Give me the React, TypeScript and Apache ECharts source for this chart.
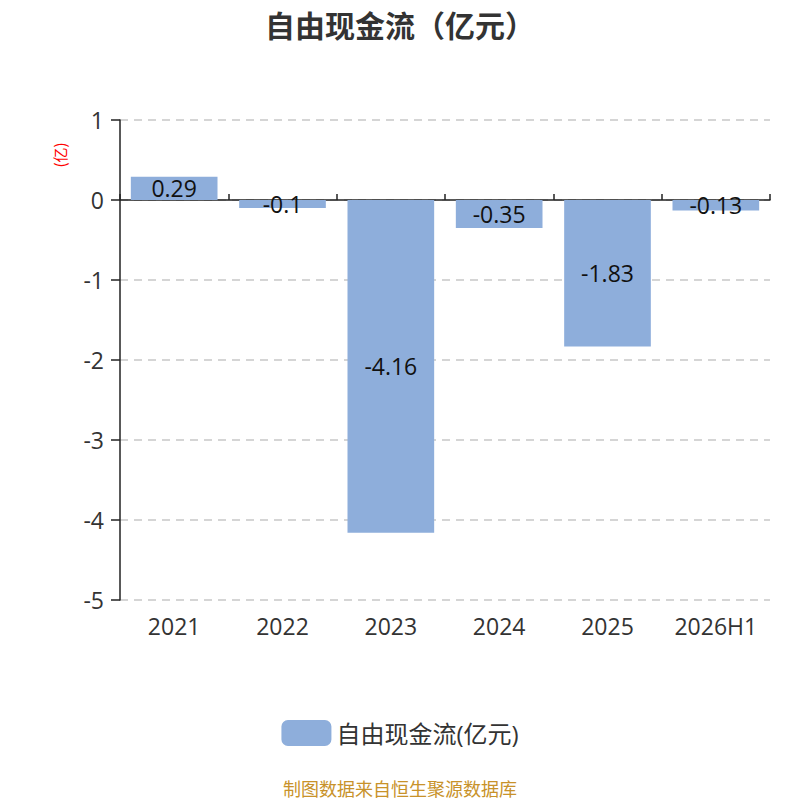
import React, { useEffect, useRef } from "react";
import * as echarts from "echarts";

const categories = ["2021", "2022", "2023", "2024", "2025", "2026H1"];
const values = [0.29, -0.1, -4.16, -0.35, -1.83, -0.13];
const seriesName = "自由现金流(亿元)";
const titleText = "自由现金流（亿元）";
const unitText = "(亿)";
const sourceText = "制图数据来自恒生聚源数据库";

const CJK = "'Noto Sans CJK SC', 'Noto Sans', sans-serif";
const NUM = "'Open Sans', 'Noto Sans CJK SC', sans-serif";

export default function App() {
  const ref = useRef<HTMLDivElement>(null);
  useEffect(() => {
    document.body.style.margin = "0";
    const chart = echarts.init(ref.current!, undefined, { renderer: "svg" });
    chart.setOption({
      animation: false,
      backgroundColor: "#ffffff",
      textStyle: { fontFamily: CJK },
      title: {
        text: titleText,
        left: "center",
        top: 4,
        textStyle: { fontSize: 30, fontWeight: "bold", color: "#333", fontFamily: CJK },
      },
      legend: {
        bottom: 49,
        left: "center",
        itemWidth: 50,
        itemHeight: 26,
        itemGap: 10,
        icon: "roundRect",
        textStyle: { fontSize: 24, color: "#333", fontFamily: NUM },
        data: [seriesName],
      },
      grid: { left: 120, right: 30, top: 120, bottom: 200 },
      xAxis: [
        {
          type: "category",
          data: categories,
          position: "bottom",
          axisLine: { show: false, onZero: false },
          axisTick: { show: false },
          axisLabel: { fontSize: 23, color: "#333", margin: 14, interval: 0, fontFamily: NUM },
        },
        {
          type: "category",
          data: categories,
          axisLine: { show: true, onZero: true, lineStyle: { color: "#222", width: 1.5 } },
          axisTick: { show: true, interval: 0, length: 6, lineStyle: { color: "#222", width: 1.5 } },
          axisLabel: { show: false },
        },
      ],
      yAxis: {
        type: "value",
        min: -5,
        max: 1,
        interval: 1,
        axisLine: { show: true, lineStyle: { color: "#222", width: 1.5 } },
        axisTick: { show: true, length: 9, lineStyle: { color: "#222", width: 1.5 } },
        axisLabel: { fontSize: 23, color: "#333", margin: 16, fontFamily: NUM },
        splitLine: { show: true, lineStyle: { type: [8, 6], color: "#c8c8c8", width: 1.5 } },
      },
      series: [
        {
          name: seriesName,
          type: "bar",
          xAxisIndex: 0,
          data: values,
          barWidth: "80%",
          itemStyle: { color: "#8eaedb" },
          label: {
            show: true,
            position: "inside",
            fontSize: 23,
            color: "#111",
            fontFamily: NUM,
          },
        },
      ],
      graphic: [
        {
          type: "text",
          x: 59,
          y: 155,
          rotation: Math.PI / 2,
          style: {
            text: unitText,
            fill: "#ff0000",
            fontSize: 15,
            fontFamily: CJK,
            align: "center",
            verticalAlign: "middle",
          },
        },
        {
          type: "text",
          left: "center",
          top: 779,
          style: {
            text: sourceText,
            fill: "#c8922a",
            fontSize: 18,
            fontFamily: CJK,
          },
        },
      ],
    });
    return () => chart.dispose();
  }, []);
  return <div ref={ref} style={{ width: 800, height: 800 }} />;
}
